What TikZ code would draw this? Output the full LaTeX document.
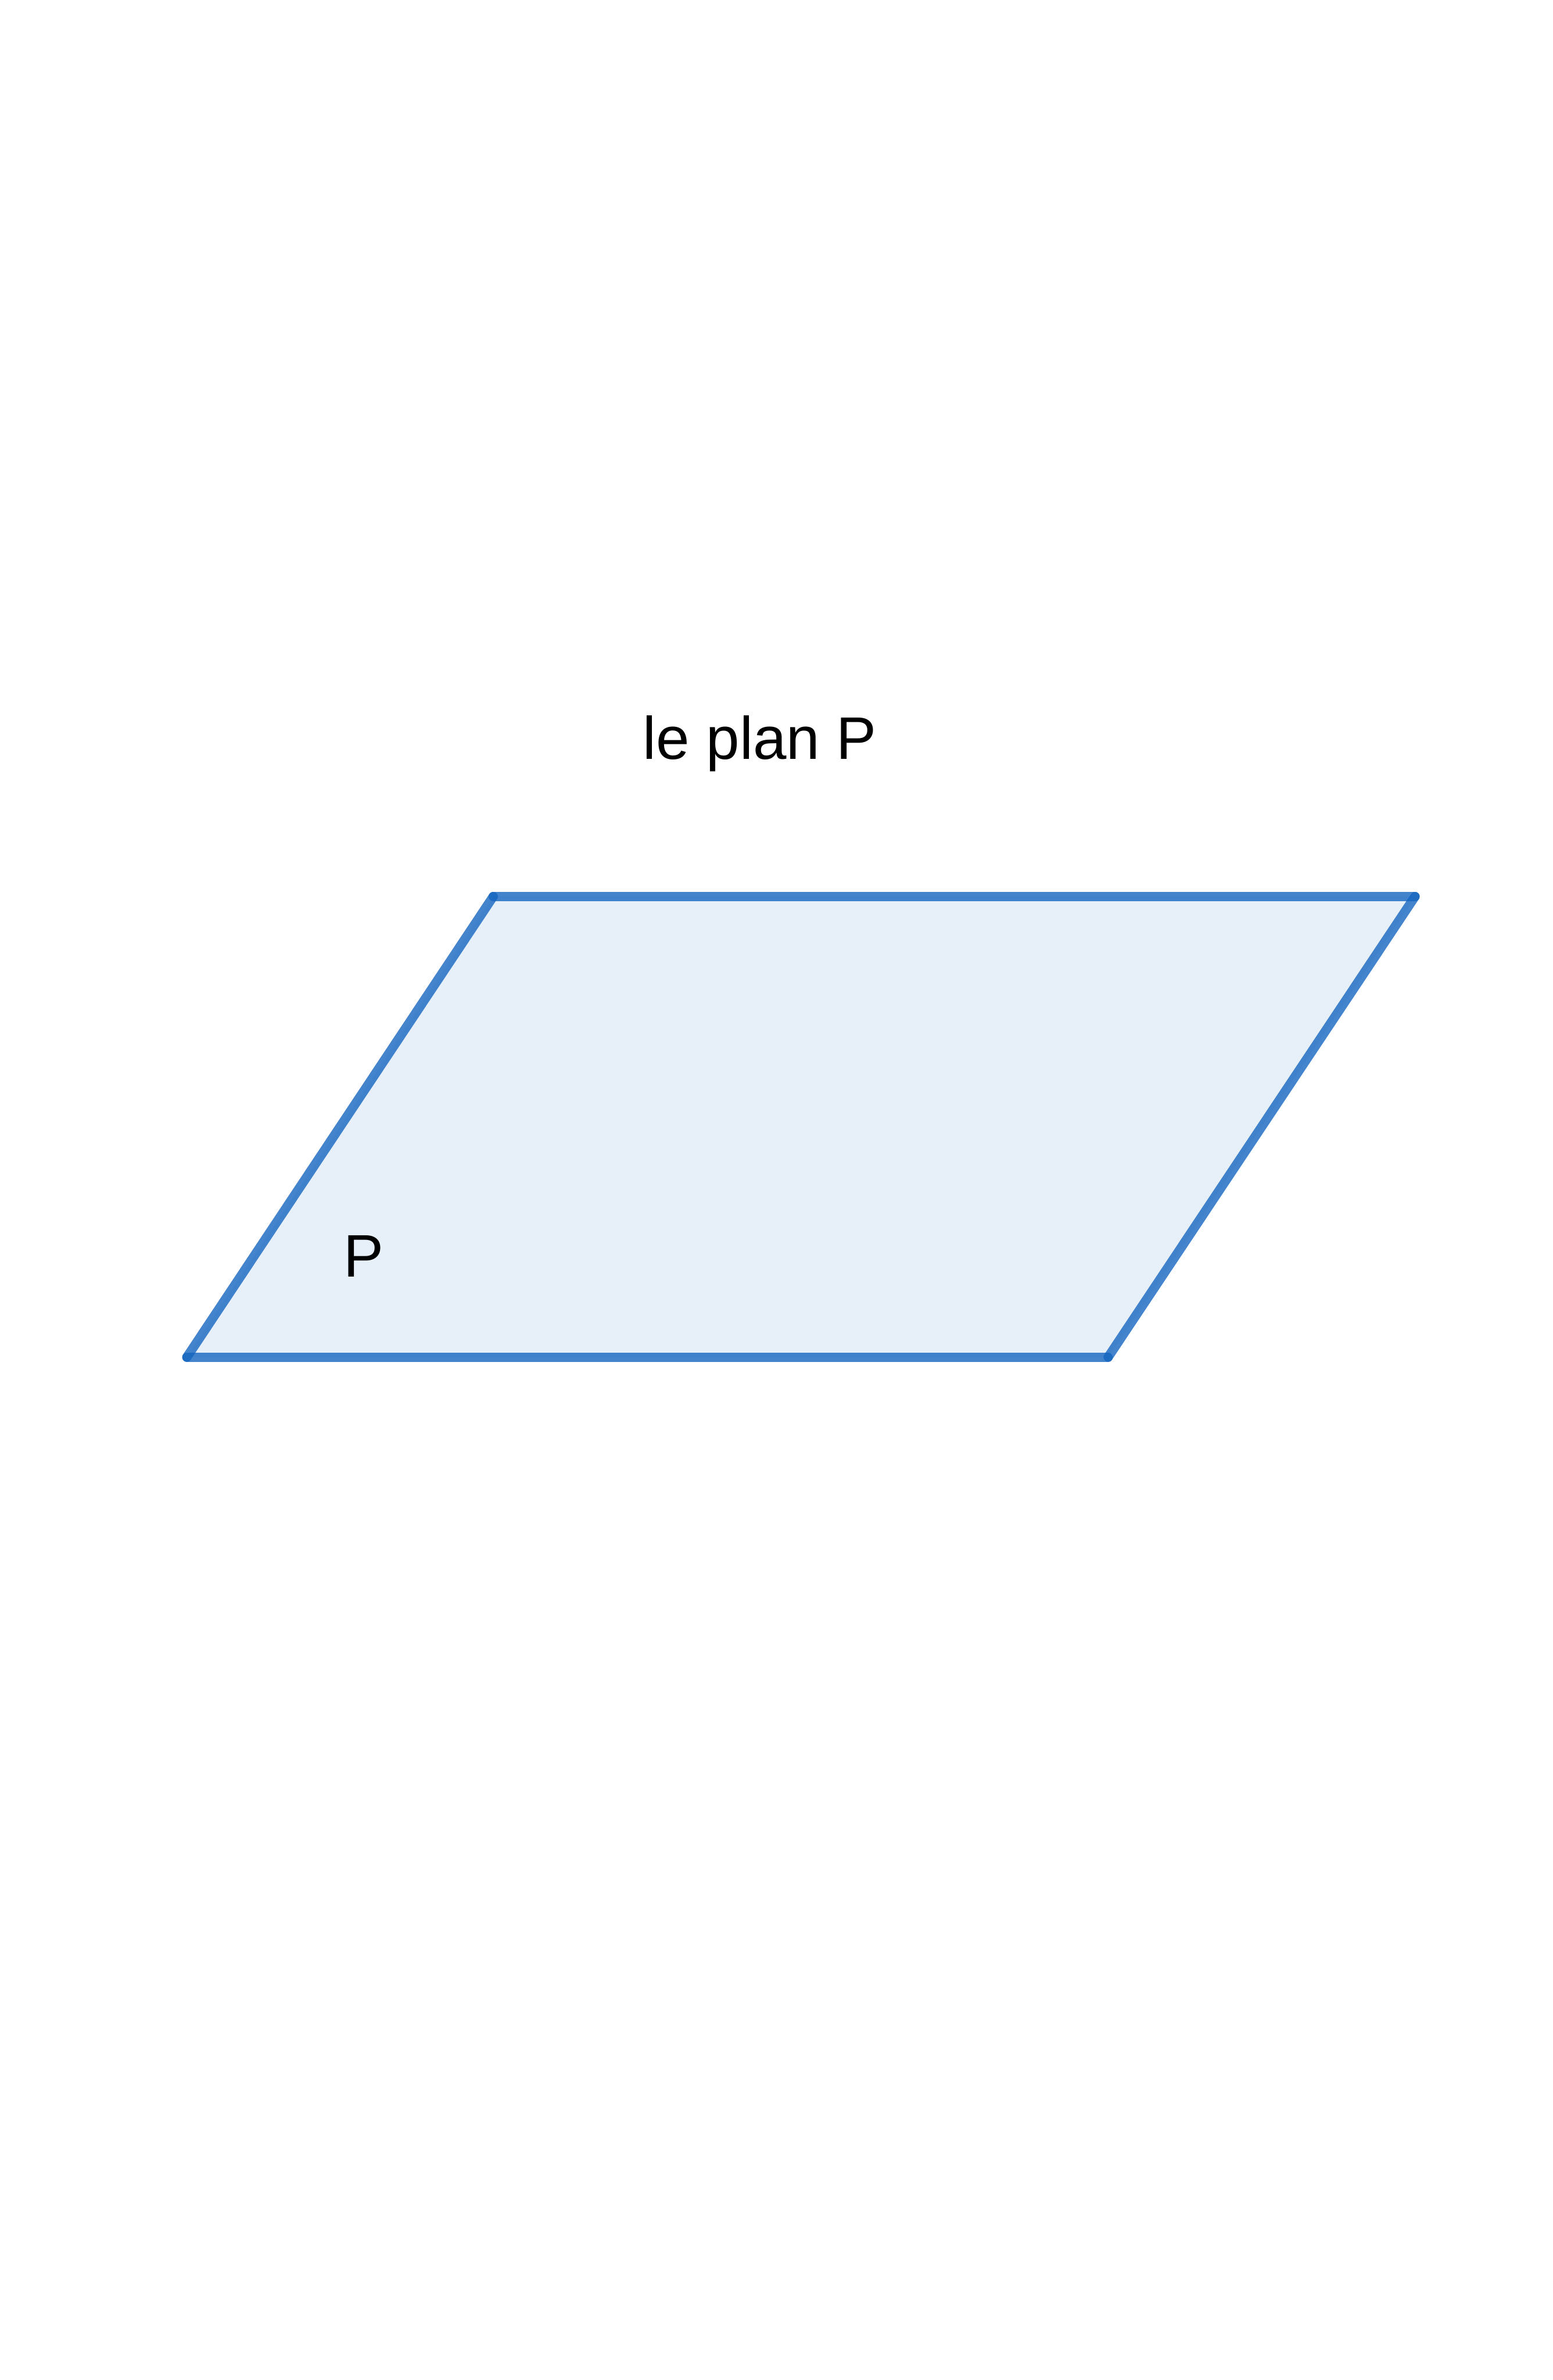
\documentclass[tikz,border=0pt]{standalone}
\usepackage{fontspec}
\setmainfont{Liberation Sans}
\definecolor{planeblue}{RGB}{21, 101, 192}
\usepackage{tikz}
\usetikzlibrary{positioning, calc}

\begin{document}
\begin{tikzpicture}[
  edge/.style={draw=planeblue, draw opacity=0.8, line width=5.1pt, line cap=round},
  lbl/.style={anchor=base, inner sep=0pt, font=\fontsize{33}{40}\selectfont}
]
  \useasboundingbox (0, 0) rectangle (30, 45.98);
  \coordinate (A) at (3.61, 19.76);
  \coordinate (B) at (21.41, 19.76);
  \coordinate (C) at (27.34, 28.66);
  \coordinate (D) at (9.53, 28.66);
  \fill[planeblue, fill opacity=0.1] (A) -- (B) -- (C) -- (D) -- cycle;
  \draw[edge] (A) -- (B);
  \draw[edge] (B) -- (C);
  \draw[edge] (C) -- (D);
  \draw[edge] (D) -- (A);
  \node[lbl] (title) at (14.68, 31.31) {le plan P};
  \node[lbl] (pname) at (7.03, 21.31) {P};
\end{tikzpicture}
\end{document}
